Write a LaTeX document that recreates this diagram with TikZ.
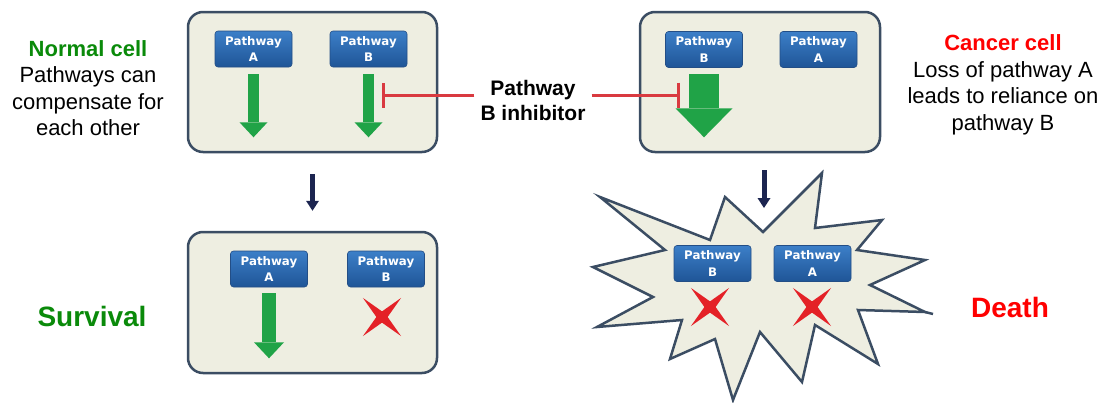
\documentclass[tikz,border=0pt]{standalone}
\usepackage{fontspec}
\setmainfont{Liberation Sans}
\newfontfamily\pwfont{DejaVu Sans}
\usetikzlibrary{arrows.meta,shapes.geometric}
\definecolor{boxfill}{HTML}{EEEEE1}
\definecolor{boxborder}{HTML}{3B4D63}
\definecolor{pwtop}{HTML}{3C7FC8}
\definecolor{pwbot}{HTML}{1F5597}
\definecolor{pwborder}{HTML}{234E86}
\definecolor{arrgreen}{HTML}{20A347}
\definecolor{darkarr}{HTML}{1C2550}
\definecolor{xred}{HTML}{E42127}
\definecolor{inhred}{HTML}{D93A40}
\definecolor{ngreen}{HTML}{0A8A0A}
\definecolor{cred}{HTML}{FF0000}
\begin{document}
\begin{tikzpicture}[x=1pt,y=-1pt,
  cellbox/.style={draw=boxborder, line width=2.5pt, fill=boxfill, rounded corners=15pt, inner sep=0pt},
  burst/.style={draw=boxborder, line width=2.5pt, fill=boxfill, line join=miter},
  pw/.style={rectangle, rounded corners=3pt, minimum width=77pt, minimum height=36pt, inner sep=0pt,
    top color=pwtop, bottom color=pwbot, draw=pwborder, line width=0.6pt, text=white,
    font=\pwfont\bfseries\fontsize{11.8}{16.5}\selectfont, align=center},
  garrow/.style={draw=arrgreen, line width=11pt, -{Triangle[width=28pt,length=15pt,line width=0pt]}},
  garrowbig/.style={draw=arrgreen, line width=30pt, -{Triangle[width=57pt,length=29pt,line width=0pt]}},
  garrowmid/.style={draw=arrgreen, line width=14pt, -{Triangle[width=30pt,length=16pt,line width=0pt]}},
  darr/.style={draw=darkarr, line width=5pt, -{Triangle[width=13pt,length=10pt,line width=0pt]}},
  inhib/.style={draw=inhred, line width=3pt, -{Bar[width=25pt]}},
  crossx/.style={star, star points=4, star point ratio=4.8, shape border rotate=45, fill=xred, draw=none,
    minimum size=54pt, inner sep=0pt},
  bodytext/.style={font=\fontsize{22}{26.5}\selectfont, align=center},
  bigtext/.style={font=\bfseries\fontsize{28}{32}\selectfont}
]
\useasboundingbox (0,0) rectangle (1104,402);

% cell boxes
\node[cellbox, minimum width=249pt, minimum height=140pt] (box1) at (312.5,82) {};
\node[cellbox, minimum width=240pt, minimum height=140pt] (box2) at (760,82) {};
\node[cellbox, minimum width=249pt, minimum height=141pt] (box3) at (312.5,302.5) {};

% starburst
\draw[burst] (600,197) -- (710,240) -- (725,197) -- (763,232) -- (822,173) -- (815,228)
  -- (882,220) -- (857,250) -- (925,260) -- (870,285) -- (925,312) -- (858,310)
  -- (878,364) -- (815,325) -- (802,382) -- (760,332) -- (733,400) -- (715,339)
  -- (670,359) -- (682,320) -- (597,327) -- (653,297) -- (593,267) -- (665,250) -- cycle;
\draw[draw=boxborder, line width=2.5pt] (925,312) -- (933,314);

% pathway labels
\node[pw] (b1a) at (253.5,49) {Pathway\\A};
\node[pw] (b1b) at (368.5,49) {Pathway\\B};
\node[pw] (b2b) at (704,49.5) {Pathway\\B};
\node[pw] (b2a) at (818.5,49.5) {Pathway\\A};
\node[pw] (b3a) at (269,269) {Pathway\\A};
\node[pw] (b3b) at (386,269) {Pathway\\B};
\node[pw] (sb) at (712.5,263.5) {Pathway\\B};
\node[pw] (sa) at (812.5,263.5) {Pathway\\A};

% green arrows
\draw[garrow] ([yshift=-7pt]b1a.south) -- ++(0,63);
\draw[garrow] ([yshift=-7pt]b1b.south) -- ++(0,63);
\draw[garrowbig] ([yshift=-6.5pt]b2b.south) -- ++(0,63);
\draw[garrowmid] ([yshift=-6pt]b3a.south) -- ++(0,65);

% red crosses
\node[crossx] (x3) at (382,317) {};
\node[crossx] (xs1) at (710,307) {};
\node[crossx] (xs2) at (812,307) {};

% dark arrows
\draw[darr] ([yshift=-21pt]box1.south) -- ([yshift=20pt]box3.north);
\coordinate (d2s) at (764,170);
\coordinate (d2e) at (764,208);
\draw[darr] (d2s) -- (d2e);

% inhibitor
\node[font=\bfseries\fontsize{21}{25}\selectfont, align=center, inner sep=6pt] (inh) at (533,100) {Pathway\\B inhibitor};
\coordinate (bar1) at (382,95);
\coordinate (bar2) at (680,95);
\draw[inhib] (inh.west |- bar1) -- (bar1);
\draw[inhib] (inh.east |- bar2) -- (bar2);

% side texts
\node[bodytext] (normal) at (88,88) {\textcolor{ngreen}{\bfseries Normal cell}\\Pathways can\\compensate for\\each other};
\node[bodytext] (cancer) at (1003,85) {\textcolor{cred}{\bfseries Cancer cell}\\Loss of pathway A\\leads to reliance on\\pathway B};
\node[bigtext, text=ngreen] (surv) at (92,316) {Survival};
\node[bigtext, text=cred] (death) at (1010,307) {Death};
\end{tikzpicture}
\end{document}
